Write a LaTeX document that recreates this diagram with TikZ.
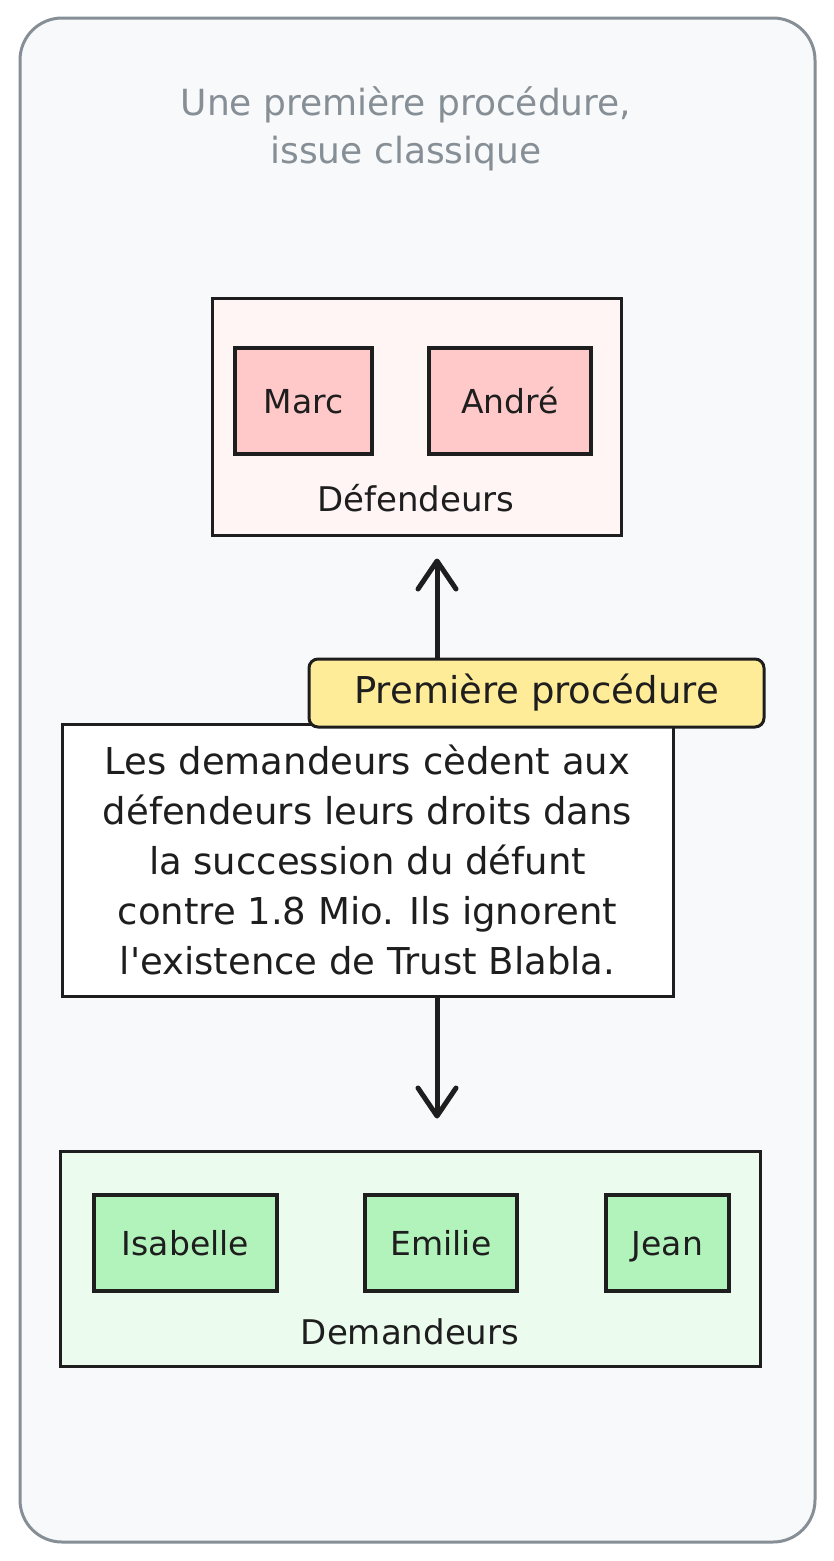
\documentclass[tikz,border=0pt]{standalone}
\usepackage{fontspec}
\setmainfont{DejaVu Sans}
\usetikzlibrary{arrows.meta}

\definecolor{framegray}{HTML}{868E96}
\definecolor{framebg}{HTML}{F8F9FA}
\definecolor{defbg}{HTML}{FFF5F5}
\definecolor{defperson}{HTML}{FFC9C9}
\definecolor{dembg}{HTML}{EBFBEE}
\definecolor{demperson}{HTML}{B2F2BB}
\definecolor{tagyellow}{HTML}{FFEC99}
\definecolor{ink}{HTML}{1E1E1E}

\begin{document}
\begin{tikzpicture}[x=1pt,y=-1pt,
  groupbox/.style={draw=ink,line width=3pt,inner sep=0pt},
  person/.style={draw=ink,line width=3.5pt,inner sep=0pt,minimum height=100pt,
    font=\fontsize{33}{40}\selectfont,text=ink,text height=24pt,text depth=0pt},
  grouplabel/.style={font=\fontsize{34}{40}\selectfont,text=ink},
  arrow/.style={draw=ink,line width=5pt,line cap=round,
    -{Straight Barb[length=28pt,width=38pt,line width=5pt,round]}}]
  \useasboundingbox (0,0) rectangle (833,1561);
  \draw[framegray,fill=framebg,line width=3pt,rounded corners=42pt] (20,18) rectangle (815,1542);

  \node[framegray,align=center,font=\fontsize{36}{48}\selectfont] (title) at (406,129)
    {Une première procédure,\\issue classique};

  % defendeurs
  \node[groupbox,fill=defbg,minimum width=409pt,minimum height=237pt] (defbox) at (416.5,416.5) {};
  \node[person,fill=defperson,minimum width=137pt,minimum height=106pt] (marc) at (303.5,401) {Marc};
  \node[person,fill=defperson,minimum width=162pt,minimum height=106pt] (andre) at (510,401) {André};
  \node[grouplabel] (deflabel) at (416,498) {Défendeurs};

  % demandeurs
  \node[groupbox,fill=dembg,minimum width=700pt,minimum height=215pt] (dembox) at (410,1258.5) {};
  \foreach \name/\x/\w/\txt in {isabelle/185.5/183/Isabelle,emilie/441/152/Emilie,jean/667.5/123/Jean} {
    \node[person,fill=demperson,minimum width=\w pt,minimum height=96pt] (\name) at (\x,1243) {\txt};
  }
  \node[grouplabel] (demlabel) at (410,1332) {Demandeurs};

  % procedure
  \node[groupbox,fill=white,minimum width=611pt,minimum height=272pt,align=center,
    font=\fontsize{37}{50}\selectfont,text=ink] (proc) at (367.5,860)
    {Les demandeurs cèdent aux\\défendeurs leurs droits dans\\la succession du défunt\\contre 1.8 Mio. Ils ignorent\\l\textquotesingle existence de Trust Blabla.};
  \node[draw=ink,line width=3pt,fill=tagyellow,rounded corners=9pt,minimum width=455pt,
    minimum height=68pt,font=\fontsize{37}{44}\selectfont,text=ink] (tag) at (536.5,693) {Première procédure};

  \draw[arrow,shorten >=22pt] ([xshift=-99.5pt]tag.north) -- ([xshift=20.5pt]defbox.south);
  \draw[arrow,shorten >=31pt] ([xshift=69.5pt]proc.south) -- ([xshift=27pt]dembox.north);
\end{tikzpicture}
\end{document}
